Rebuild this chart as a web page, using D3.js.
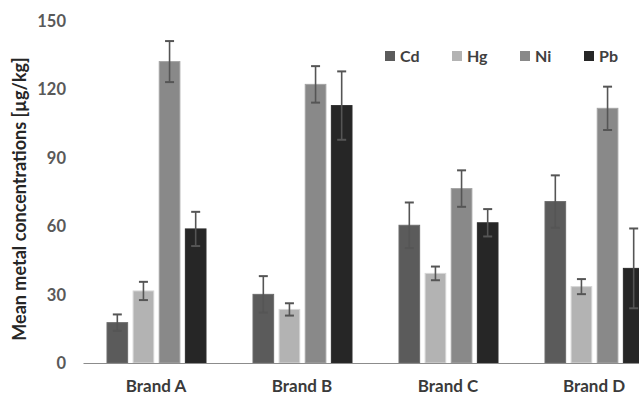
<!DOCTYPE html>
<html>
<head>
<meta charset="utf-8">
<script src="https://cdn.jsdelivr.net/npm/d3@7"></script>
<style>
  body { margin: 0; background: #fff; }
  svg { display: block; font-family: Lato, "Open Sans", sans-serif; }
</style>
</head>
<body>
<svg id="chart" width="639" height="395"></svg>
<script>
const brands = ["Brand A", "Brand B", "Brand C", "Brand D"];
const metals = ["Cd", "Hg", "Ni", "Pb"];
const cd = [17.7, 30.1, 60.4, 70.8];
const hg = [31.6, 23.5, 39.3, 33.5];
const ni = [132.2, 122.2, 76.5, 111.7];
const pb = [58.8, 112.9, 61.5, 41.5];
const cdErr = [3.6, 8, 10, 11.5];
const hgErr = [4, 2.7, 3, 3.3];
const niErr = [9, 8, 8, 9.5];
const pbErr = [7.5, 15, 6, 17.5];
const yTicks = [0, 30, 60, 90, 120, 150];

const colors = ["#5b5b5b", "#b3b3b3", "#898989", "#262626"];
const series = [cd, hg, ni, pb];
const errs = [cdErr, hgErr, niErr, pbErr];

const svg = d3.select("#chart");

const x = d3.scaleBand().domain(brands).range([83, 667]);
const xs = d3.scaleBand().domain(metals).range([24, 123]).paddingInner(0.21);
const y = d3.scaleLinear().domain([0, 150]).range([363, 21]);

// y tick labels
svg.append("g")
  .selectAll("text")
  .data(yTicks)
  .enter().append("text")
    .attr("x", 66)
    .attr("y", d => y(d) + 6)
    .attr("text-anchor", "end")
    .attr("font-size", 16.5)
    .attr("font-weight", 700)
    .attr("fill", "#595959")
    .text(d => d);

// y title
svg.append("text")
  .attr("transform", "translate(26,199) rotate(-90)")
  .attr("text-anchor", "middle")
  .attr("font-size", 18)
  .attr("font-weight", 700)
  .attr("fill", "#262626")
  .text("Mean metal concentrations [µg/kg]");

// bars
const rows = [];
brands.forEach((b, i) => {
  metals.forEach((m, j) => {
    rows.push({ brand: b, metal: m, value: series[j][i], err: errs[j][i], color: colors[j] });
  });
});

const plot = svg.append("g");

plot.selectAll("rect")
  .data(rows)
  .enter().append("rect")
    .attr("x", d => x(d.brand) + xs(d.metal))
    .attr("y", d => y(d.value))
    .attr("width", xs.bandwidth())
    .attr("height", d => y(0) - y(d.value))
    .attr("fill", d => d.color)
    .attr("stroke", d => d3.color(d.color).brighter(0.5))
    .attr("stroke-width", 1);

// error bars
const eb = plot.selectAll("g.err")
  .data(rows)
  .enter().append("g")
    .attr("class", "err")
    .attr("stroke", "#555")
    .attr("stroke-width", 1.6);

const cx = d => x(d.brand) + xs(d.metal) + xs.bandwidth() / 2;
eb.append("line")
  .attr("x1", cx).attr("x2", cx)
  .attr("y1", d => y(d.value - d.err))
  .attr("y2", d => y(d.value + d.err));
eb.append("line")
  .attr("x1", d => cx(d) - 4.5).attr("x2", d => cx(d) + 4.5)
  .attr("y1", d => y(d.value + d.err))
  .attr("y2", d => y(d.value + d.err))
  .attr("stroke-width", 2);
eb.append("line")
  .attr("x1", d => cx(d) - 4.5).attr("x2", d => cx(d) + 4.5)
  .attr("y1", d => y(d.value - d.err))
  .attr("y2", d => y(d.value - d.err))
  .attr("stroke-width", 2);

// x axis
const xAxis = svg.append("g")
  .attr("transform", `translate(0,${y(0)})`)
  .call(d3.axisBottom(x).tickSize(0).tickPadding(14));
xAxis.select(".domain").attr("stroke", "#8c8c8c").attr("stroke-width", 1.2);
xAxis.selectAll("text")
  .attr("font-family", "Lato, 'Open Sans', sans-serif")
  .attr("font-size", 17)
  .attr("font-weight", 700)
  .attr("fill", "#3a3a3a")
  .attr("dy", null)
  .attr("y", 29);

// legend
const legendX = [385, 452, 520, 584];
const legend = svg.append("g")
  .selectAll("g")
  .data(metals)
  .enter().append("g")
    .attr("transform", (d, i) => `translate(${legendX[i]},51)`);
legend.append("rect")
  .attr("width", 10).attr("height", 10)
  .attr("fill", (d, i) => colors[i]);
legend.append("text")
  .attr("x", 15)
  .attr("y", 11)
  .attr("font-size", 16)
  .attr("font-weight", 700)
  .attr("fill", "#404040")
  .text(d => d);
</script>
</body>
</html>
